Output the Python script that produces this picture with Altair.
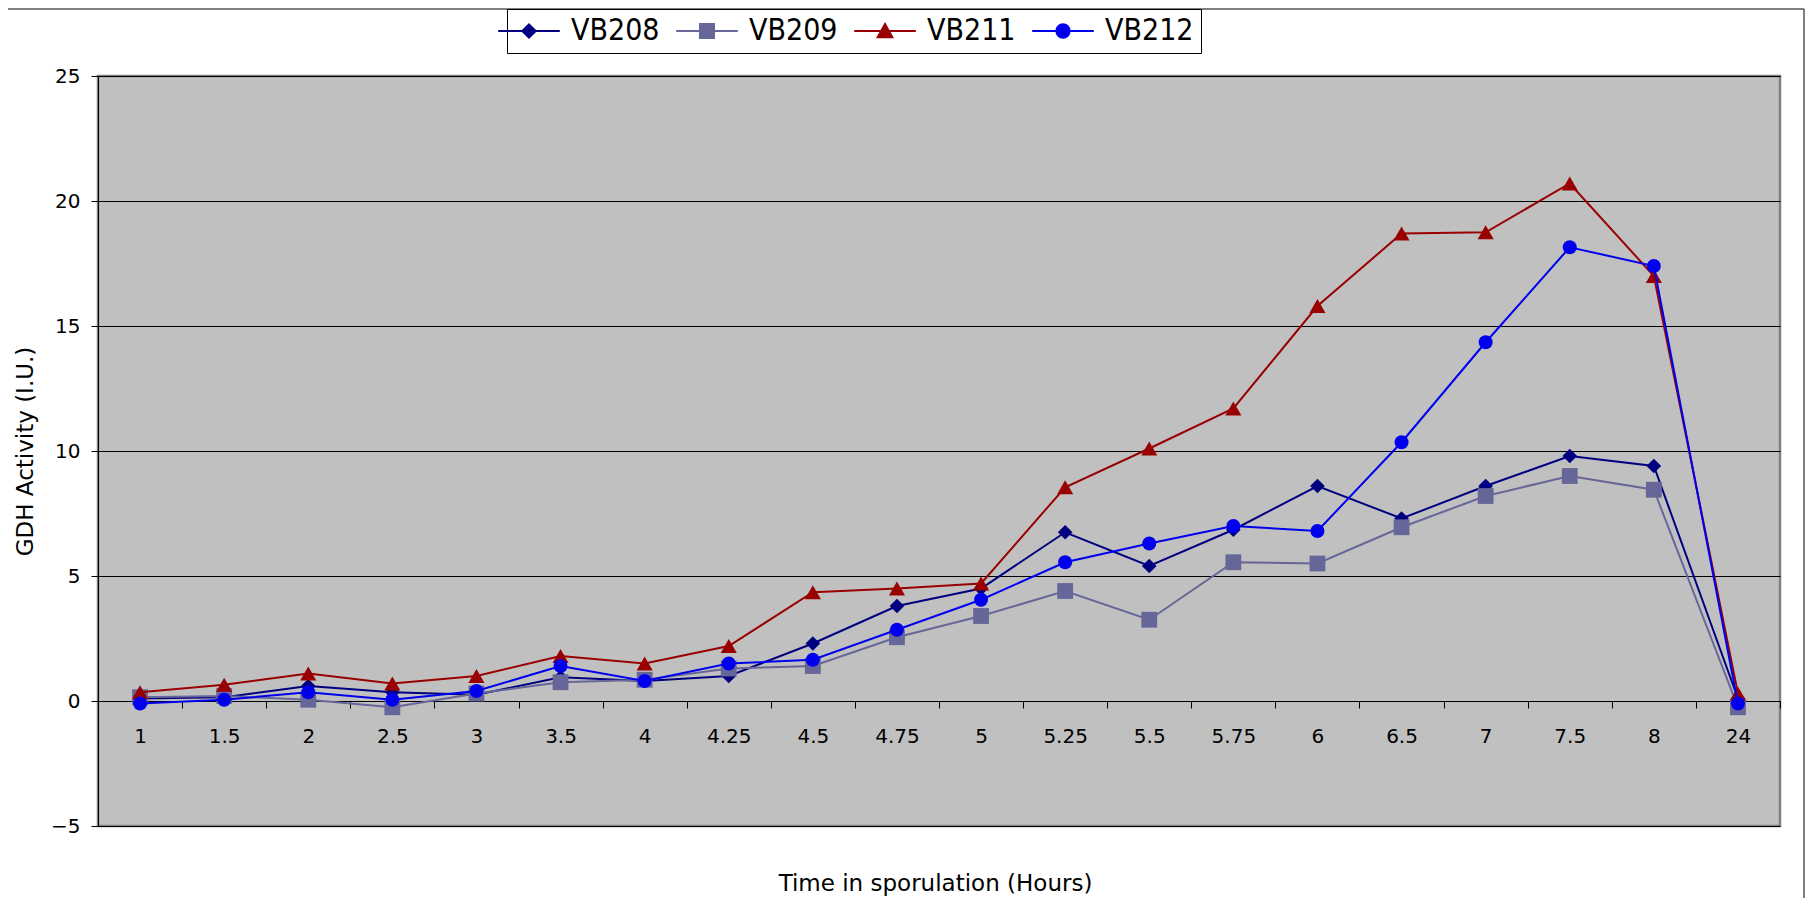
import altair as alt
import pandas as pd

# ---- data ----
times = ["1", "1.5", "2", "2.5", "3", "3.5", "4", "4.25", "4.5", "4.75",
         "5", "5.25", "5.5", "5.75", "6", "6.5", "7", "7.5", "8", "24"]
vb208 = [0.10, 0.15, 0.60, 0.35, 0.25, 0.95, 0.80, 1.00, 2.30, 3.80,
         4.50, 6.75, 5.40, 6.85, 8.60, 7.30, 8.60, 9.80, 9.40, 0.10]
vb209 = [0.15, 0.20, 0.05, -0.25, 0.30, 0.75, 0.85, 1.30, 1.40, 2.55,
         3.40, 4.40, 3.25, 5.55, 5.50, 6.95, 8.20, 9.00, 8.45, -0.25]
vb211 = [0.35, 0.65, 1.10, 0.70, 1.00, 1.80, 1.50, 2.20, 4.35, 4.50,
         4.70, 8.55, 10.10, 11.70, 15.80, 18.70, 18.75, 20.70, 17.00, 0.30]
vb212 = [-0.10, 0.05, 0.35, 0.05, 0.40, 1.40, 0.80, 1.50, 1.65, 2.85,
         4.05, 5.55, 6.30, 7.00, 6.80, 10.35, 14.35, 18.15, 17.40, -0.10]

series_names = ["VB208", "VB209", "VB211", "VB212"]
series_values = [vb208, vb209, vb211, vb212]
series_colors = ["#000080", "#666699", "#990000", "#0000EE"]
marker_shapes = ["diamond", "square", "triangle-up", "circle"]
marker_sizes = [215, 250, 260, 195]
y_ticks = [-5, 0, 5, 10, 15, 20, 25]

rows = []
for name, vals in zip(series_names, series_values):
    for t, v in zip(times, vals):
        rows.append({"time": t, "series": name, "value": v})
df = pd.DataFrame(rows)

W, H = 1682, 750
FONT = "DejaVu Sans"

x_enc = alt.X(
    "time:O",
    sort=times,
    scale=alt.Scale(type="band", paddingInner=0, paddingOuter=0),
    axis=alt.Axis(
        title="Time in sporulation (Hours)",
        offset=-125,
        tickBand="extent",
        tickSize=7,
        tickColor="black",
        tickWidth=1,
        domainColor="black",
        domainWidth=1,
        labelAngle=0,
        labelFont=FONT,
        labelFontSize=20,
        labelColor="black",
        labelPadding=18,
        grid=False,
        titleFont=FONT,
        titleFontSize=23,
        titleFontWeight="normal",
        titleColor="black",
        titleX=837,
        titleY=189,
        titleBaseline="alphabetic",
        titleAlign="center",
    ),
)

y_enc = alt.Y(
    "value:Q",
    scale=alt.Scale(domain=[-5, 25], nice=False, zero=False),
    axis=alt.Axis(
        values=y_ticks,
        title="GDH Activity (I.U.)",
        tickSize=7,
        tickColor="black",
        domainColor="black",
        domainWidth=1,
        labelFont=FONT,
        labelFontSize=20,
        labelColor="black",
        labelPadding=11,
        grid=True,
        gridColor="#000000",
        gridWidth=1,
        titleFont=FONT,
        titleFontSize=23,
        titleFontWeight="normal",
        titleColor="black",
        titleX=-73,
        titleBaseline="middle",
    ),
)

# legend symbols: a horizontal line with the marker in its middle
L = "M-4.4,0H4.4"
legend_paths = [
    L + "M0,-0.95L0.95,0L0,0.95L-0.95,0Z",
    L + "M-1,-1H1V1H-1Z",
    L + "M0,-1L1.05,0.9H-1.05Z",
    L + "M0.95,0A0.95,0.95,0,1,1,-0.95,0A0.95,0.95,0,1,1,0.95,0Z",
]

leg = alt.Legend(
    title=None,
    orient="none",
    legendX=409,
    legendY=-67,
    direction="horizontal",
    padding=7,
    fillColor="white",
    strokeColor="black",
    labelFont="DejaVu Sans Condensed",
    labelFontSize=30,
    labelColor="black",
    labelOffset=27,
    columnPadding=12,
    symbolSize=196,
    symbolStrokeWidth=2,
    symbolOpacity=1,
)

legend_layer = (
    alt.Chart(df)
    .transform_filter("datum.value > 1000")
    .mark_point(filled=True, opacity=0)
    .encode(
        x=x_enc,
        y=y_enc,
        fill=alt.Fill("series:N", scale=alt.Scale(domain=series_names, range=series_colors), legend=leg),
        stroke=alt.Stroke("series:N", scale=alt.Scale(domain=series_names, range=series_colors), legend=leg),
        shape=alt.Shape("series:N", scale=alt.Scale(domain=series_names, range=legend_paths), legend=leg),
    )
)

border = (
    alt.Chart(pd.DataFrame({"k": [0]}))
    .mark_rect(fillOpacity=0, stroke="black", strokeWidth=1)
    .encode(x=alt.value(-93), x2=alt.value(1706), y=alt.value(-67), y2=alt.value(840))
)

layers = [border]
for name, color, shp, sz in zip(series_names, series_colors, marker_shapes, marker_sizes):
    base = alt.Chart(df).transform_filter(alt.datum.series == name)
    line = base.mark_line(color=color, strokeWidth=2).encode(x=x_enc, y=y_enc)
    pts = base.mark_point(shape=shp, filled=True, size=sz, color=color, opacity=1).encode(x=x_enc, y=y_enc)
    layers += [line, pts]
layers.append(legend_layer)

chart = (
    alt.layer(*layers)
    .properties(
        width=W,
        height=H,
        padding={"left": 90, "top": 68, "right": 25, "bottom": 72},
        autosize=alt.AutoSizeParams(type="none"),
        background="white",
    )
    .configure_view(fill="#C0C0C0", stroke="#808080", strokeWidth=2.5)
)

chart.save("out.html", embed_options={"renderer": "svg", "actions": False})
